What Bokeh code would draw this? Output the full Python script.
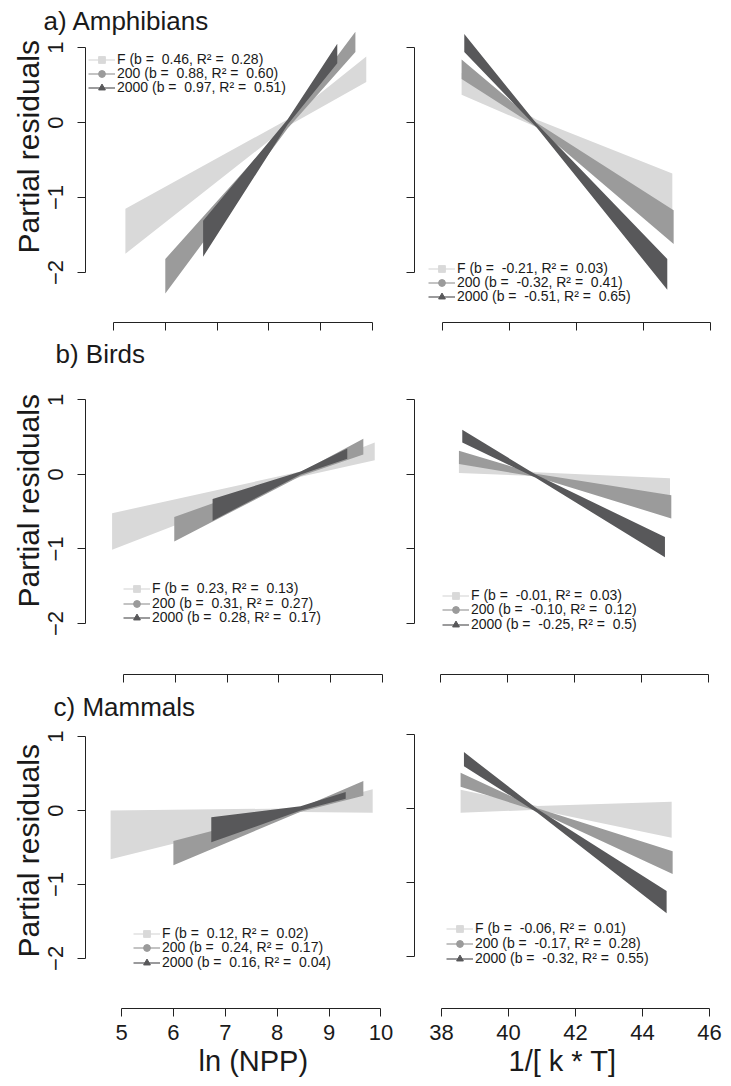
import numpy as np
from bokeh.plotting import figure
from bokeh.models import Range1d, LinearAxis, FixedTicker, Legend, LegendItem, Title
from bokeh.layouts import column, row
from bokeh.embed import file_html
from bokeh.resources import INLINE

# ---------------- data ----------------
series_names = ["F", "200", "2000"]

titles = ["a) Amphibians", "b) Birds", "c) Mammals"]
y_label = "Partial residuals"
x_label_npp = "ln (NPP)"
x_label_temp = "1/[ k * T]"
y_ticks = [-2, -1, 0, 1]
npp_ticks = [5, 6, 7, 8, 9, 10]
temp_ticks = [38, 40, 42, 44, 46]

# each band: x at start / waist / end, lower and upper partial residuals
amph_npp_x = [[5.23, 8.36, 9.88], [6.00, 8.36, 9.67], [6.73, 8.36, 9.32]]
amph_npp_lo = [[-1.75, -0.05, 0.54], [-2.28, -0.08, 0.94], [-1.79, -0.03, 0.79]]
amph_npp_hi = [[-1.15, 0.04, 0.88], [-1.82, 0.00, 1.21], [-1.31, 0.04, 1.05]]

amph_temp_x = [[38.57, 40.80, 44.86], [38.57, 40.80, 44.90], [38.65, 40.80, 44.71]]
amph_temp_lo = [[0.37, -0.06, -1.25], [0.58, -0.06, -1.62], [0.94, -0.06, -2.23]]
amph_temp_hi = [[0.66, 0.04, -0.68], [0.84, 0.00, -1.17], [1.18, -0.01, -1.82]]

bird_npp_x = [[4.78, 8.42, 9.85], [5.98, 8.42, 9.63], [6.72, 8.42, 9.32]]
bird_npp_lo = [[-1.01, -0.03, 0.19], [-0.90, -0.02, 0.27], [-0.62, 0.00, 0.21]]
bird_npp_hi = [[-0.52, 0.04, 0.43], [-0.57, 0.03, 0.48], [-0.33, 0.04, 0.35]]

bird_temp_x = [[38.55, 40.84, 44.85], [38.55, 40.84, 44.89], [38.65, 40.84, 44.70]]
bird_temp_lo = [[0.02, -0.02, -0.30], [0.14, -0.03, -0.59], [0.43, -0.045, -1.11]]
bird_temp_hi = [[0.20, 0.03, -0.05], [0.32, 0.01, -0.28], [0.60, 0.00, -0.84]]

mamm_npp_x = [[4.79, 8.45, 9.84], [6.00, 8.45, 9.66], [6.73, 8.45, 9.32]]
mamm_npp_lo = [[-0.66, -0.02, -0.03], [-0.74, -0.015, 0.20], [-0.43, 0.00, 0.16]]
mamm_npp_hi = [[0.00, 0.03, 0.29], [-0.41, 0.035, 0.40], [-0.09, 0.06, 0.25]]

mamm_temp_x = [[38.57, 40.86, 44.87], [38.57, 40.86, 44.90], [38.67, 40.86, 44.72]]
mamm_temp_lo = [[-0.06, -0.02, -0.40], [0.29, -0.04, -0.89], [0.57, -0.06, -1.42]]
mamm_temp_hi = [[0.25, 0.03, 0.09], [0.48, 0.00, -0.58], [0.76, -0.01, -1.12]]

amph_npp_legend = ["F (b =  0.46, R² =  0.28)", "200 (b =  0.88, R² =  0.60)", "2000 (b =  0.97, R² =  0.51)"]
amph_temp_legend = ["F (b =  -0.21, R² =  0.03)", "200 (b =  -0.32, R² =  0.41)", "2000 (b =  -0.51, R² =  0.65)"]
bird_npp_legend = ["F (b =  0.23, R² =  0.13)", "200 (b =  0.31, R² =  0.27)", "2000 (b =  0.28, R² =  0.17)"]
bird_temp_legend = ["F (b =  -0.01, R² =  0.03)", "200 (b =  -0.10, R² =  0.12)", "2000 (b =  -0.25, R² =  0.5)"]
mamm_npp_legend = ["F (b =  0.12, R² =  0.02)", "200 (b =  0.24, R² =  0.17)", "2000 (b =  0.16, R² =  0.04)"]
mamm_temp_legend = ["F (b =  -0.06, R² =  0.01)", "200 (b =  -0.17, R² =  0.28)", "2000 (b =  -0.32, R² =  0.55)"]

# ---------------- styling ----------------
FONT = "Liberation Sans"
TXT = "#1a1a1a"
AX = "#222222"
COLORS = ["#d9d9d9", "#9b9b9b", "#58585a"]
MARKERS = ["square", "circle", "triangle"]
ITEM_H = 17


def style_axis(ax, show_labels, standoff):
    ax.axis_line_color = AX
    ax.axis_line_width = 1
    ax.major_tick_line_color = AX
    ax.major_tick_in = 0
    ax.major_tick_out = 8
    ax.minor_tick_in = 0
    ax.minor_tick_out = 0
    ax.major_label_text_font = FONT
    if show_labels:
        ax.major_label_text_color = TXT
        ax.major_label_text_font_size = "22px"
        ax.major_label_standoff = standoff
    else:
        ax.major_label_text_color = None
        ax.major_label_text_font_size = "0px"
        ax.major_label_standoff = 0


def panel(width, height, borders, xr, yr, xs, los, his, legend_labels, legend_x,
          legend_rows, xticks, left_side, bottom_row, xlab=None, xlab_offset=0,
          title=None, title_offset=0, title_standoff=0, ylab_offset=0):
    bl, br, bt, bb = borders
    p = figure(width=width, height=height, x_range=Range1d(*xr), y_range=Range1d(*yr),
               x_axis_type=None, y_axis_type=None, output_backend="svg",
               toolbar_location=None, min_border_left=bl, min_border_right=br,
               min_border_top=bt, min_border_bottom=bb, outline_line_color=None,
               background_fill_color="white", border_fill_color="white")
    for i in range(3):
        bx = list(xs[i]) + list(xs[i])[::-1]
        by = list(his[i]) + list(los[i])[::-1]
        p.patch(bx, by, fill_color=COLORS[i], line_color=None)

    # one single-entry legend per series, so that the row pitch matches the original
    for i in range(3):
        lr = p.line(x=np.array([np.nan, np.nan]), y=np.array([np.nan, np.nan]),
                    line_color=COLORS[i], line_width=1.2)
        sr = p.scatter(x=np.array([np.nan]), y=np.array([np.nan]), marker=MARKERS[i],
                       size=6, fill_color=COLORS[i], line_color=COLORS[i])
        leg = Legend(items=[LegendItem(label=legend_labels[i], renderers=[lr, sr])],
                     location=(legend_x, legend_rows[i] - ITEM_H / 2),
                     orientation="vertical", glyph_width=27, glyph_height=ITEM_H,
                     label_height=ITEM_H, label_standoff=2, spacing=0, padding=0,
                     margin=0, border_line_color=None, background_fill_alpha=0,
                     label_text_font=FONT, label_text_font_size="14px",
                     label_text_color=TXT)
        p.add_layout(leg)

    yax = LinearAxis(ticker=FixedTicker(ticks=y_ticks), bounds=(y_ticks[0], y_ticks[-1]))
    style_axis(yax, left_side, 14)
    if left_side:
        yax.major_label_orientation = "vertical"
    p.add_layout(yax, "left")

    xax = LinearAxis(ticker=FixedTicker(ticks=xticks), bounds=(xticks[0], xticks[-1]))
    style_axis(xax, bottom_row, 8)
    p.add_layout(xax, "below")

    if left_side:
        p.add_layout(Title(text=y_label, text_font=FONT, text_font_size="30px",
                           text_font_style="normal", text_color=TXT, align="left",
                           vertical_align="bottom", offset=ylab_offset, standoff=2), "left")
    if bottom_row:
        p.add_layout(Title(text=xlab, text_font=FONT, text_font_size="29px",
                           text_font_style="normal", text_color=TXT, align="left",
                           vertical_align="top", offset=xlab_offset, standoff=4), "below")
    if title is not None:
        p.add_layout(Title(text=title, text_font=FONT, text_font_size="26px",
                           text_font_style="normal", text_color=TXT, align="left",
                           vertical_align="bottom", offset=title_offset,
                           standoff=title_standoff), "above")
    return p


def rows_from_bottom(frame_bottom, centers):
    # legend row centres (page px) -> distance above the frame bottom
    return [frame_bottom - c for c in centers]


LW, RW = 394, 337
LB = (85, 0)
RB = (20, 13)

# row a  (canvas y 0..334, frame 30..322)
ha, ta, ba = 334, 30, 12
pa_l = panel(LW, ha, LB + (ta, ba), (4.4595, 10.4247), (-2.6667, 1.2267),
             amph_npp_x, amph_npp_lo, amph_npp_hi, amph_npp_legend, 3,
             rows_from_bottom(322, [59, 73, 87]),
             npp_ticks, True, False, title=titles[0], title_offset=-42,
             title_standoff=-11, ylab_offset=69)
pa_r = panel(RW, ha, RB + (ta, ba), (37.1642, 46.2388), (-2.6667, 1.2267),
             amph_temp_x, amph_temp_lo, amph_temp_hi, amph_temp_legend, 14,
             rows_from_bottom(322, [268, 282, 296]),
             temp_ticks, False, False)

# row b  (canvas y 334..690, frame 370..674)
hb, tb, bb_ = 356, 36, 16
pb_l = panel(LW, hb, LB + (tb, bb_), (4.2664, 10.2317), (-2.685, 1.396),
             bird_npp_x, bird_npp_lo, bird_npp_hi, bird_npp_legend, 38,
             rows_from_bottom(674, [588, 603, 617]),
             npp_ticks, True, False, title=titles[1], title_offset=-30,
             title_standoff=3, ylab_offset=67)
pb_r = panel(RW, hb, RB + (tb, bb_), (37.2239, 46.2985), (-2.685, 1.396),
             bird_temp_x, bird_temp_lo, bird_temp_hi, bird_temp_legend, 28,
             rows_from_bottom(674, [595, 609, 624]),
             temp_ticks, False, False)

# row c  (canvas y 690..1085, frame 718..1008)
hc, tc, bc = 395, 28, 77
pc_l = panel(LW, hc, LB + (tc, bc), (4.3064, 10.2602), (-2.6774, 1.2048),
             mamm_npp_x, mamm_npp_lo, mamm_npp_hi, mamm_npp_legend, 48,
             rows_from_bottom(1008, [933, 947, 962]),
             npp_ticks, True, True, xlab=x_label_npp, xlab_offset=113,
             title=titles[2], title_offset=-32, title_standoff=-1, ylab_offset=51)
pc_r = panel(RW, hc, RB + (tc, bc), (37.194, 46.2686), (-2.708, 1.174),
             mamm_temp_x, mamm_temp_lo, mamm_temp_hi, mamm_temp_legend, 32,
             rows_from_bottom(1008, [928, 943, 958]),
             temp_ticks, False, True, xlab=x_label_temp, xlab_offset=94)

layout = column(row(pa_l, pa_r), row(pb_l, pb_r), row(pc_l, pc_r))
open("out.html", "w").write(file_html(layout, INLINE))
